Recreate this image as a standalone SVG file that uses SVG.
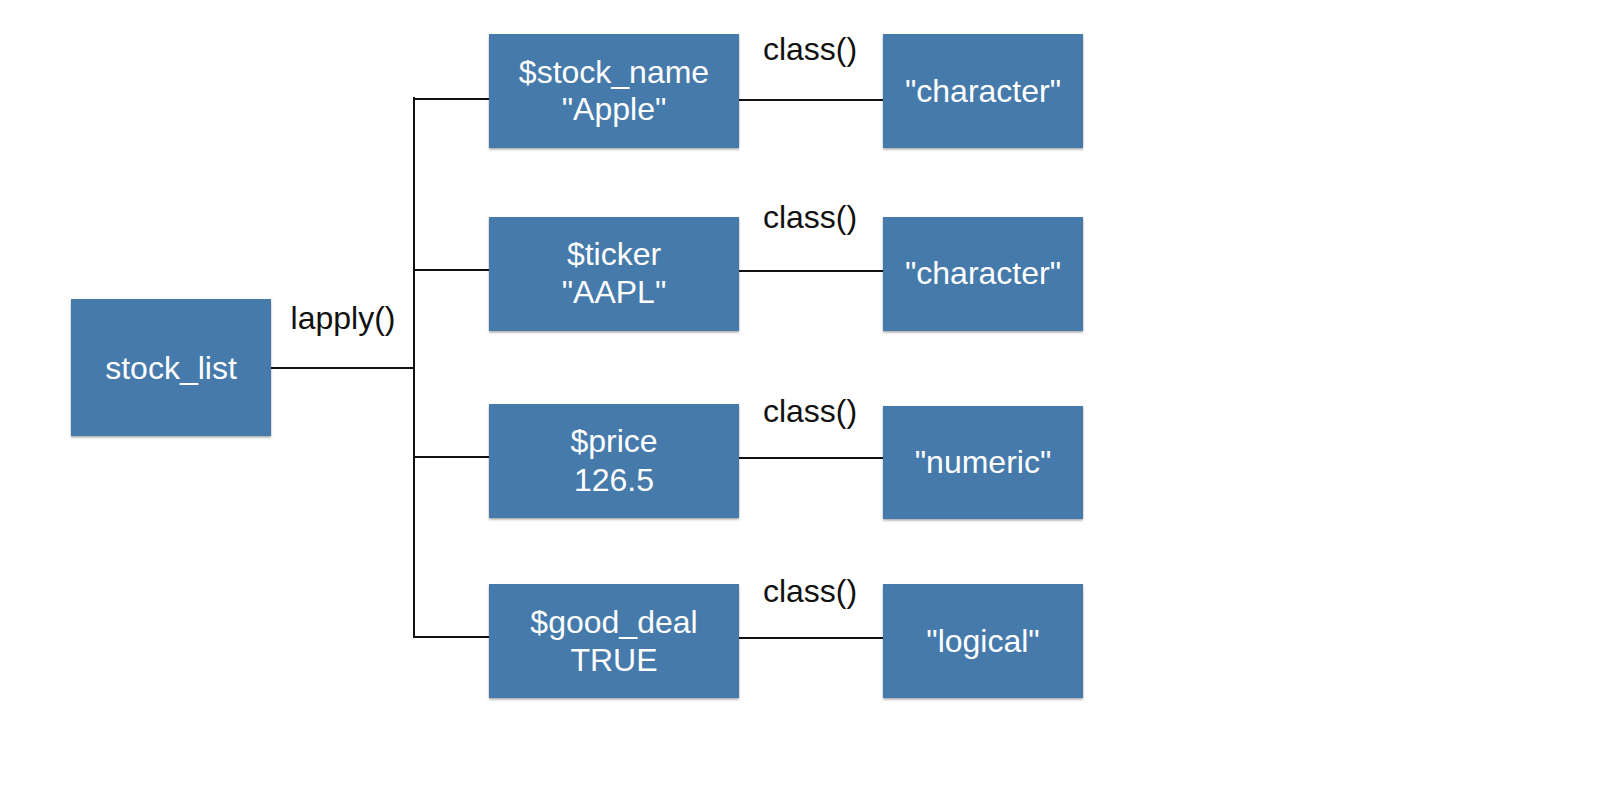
<svg xmlns="http://www.w3.org/2000/svg" width="1600" height="810" viewBox="0 0 1600 810">
<defs>
<filter id="sh" x="-5%" y="-5%" width="110%" height="115%">
<feDropShadow dx="0" dy="1.5" stdDeviation="1.2" flood-color="#000" flood-opacity="0.35"/>
</filter>
<style>
.box{fill:#447aab;filter:url(#sh)}
.t{font-family:"Liberation Sans",Arial,sans-serif;font-size:32px;fill:#fff;text-anchor:middle}
.l{font-family:"Liberation Sans",Arial,sans-serif;font-size:32px;fill:#111;text-anchor:middle}
.c{stroke:#111;stroke-width:2;fill:none}
</style>
</defs>
<rect width="1600" height="810" fill="#fff"/>
<g id="connectors">
<line class="c" x1="271" y1="368" x2="414" y2="368"/>
<line class="c" x1="414" y1="97" x2="414" y2="638"/>
<line class="c" x1="413" y1="99" x2="489" y2="99"/>
<line class="c" x1="413" y1="270" x2="489" y2="270"/>
<line class="c" x1="413" y1="457" x2="489" y2="457"/>
<line class="c" x1="413" y1="637" x2="489" y2="637"/>
<line class="c" x1="739" y1="100" x2="883" y2="100"/>
<line class="c" x1="739" y1="271" x2="883" y2="271"/>
<line class="c" x1="739" y1="458" x2="883" y2="458"/>
<line class="c" x1="739" y1="638" x2="883" y2="638"/>
<text class="l" x="343" y="329">lapply()</text>
<text class="l" x="810" y="60">class()</text>
<text class="l" x="810" y="228">class()</text>
<text class="l" x="810" y="422">class()</text>
<text class="l" x="810" y="602">class()</text>
</g>
<g id="stock_list"><rect class="box" x="71" y="299" width="200" height="137"/><text class="t" x="171" y="379">stock_list</text></g>
<g id="stock_name"><rect class="box" x="489" y="34" width="250" height="114"/><text class="t" x="614" y="83">$stock_name</text><text class="t" x="614" y="120">"Apple"</text></g>
<g id="ticker"><rect class="box" x="489" y="217" width="250" height="114"/><text class="t" x="614" y="265">$ticker</text><text class="t" x="614" y="303">"AAPL"</text></g>
<g id="price"><rect class="box" x="489" y="404" width="250" height="114"/><text class="t" x="614" y="452">$price</text><text class="t" x="614" y="491">126.5</text></g>
<g id="good_deal"><rect class="box" x="489" y="584" width="250" height="114"/><text class="t" x="614" y="633">$good_deal</text><text class="t" x="614" y="671">TRUE</text></g>
<g id="class1"><rect class="box" x="883" y="34" width="200" height="114"/><text class="t" x="983" y="102">"character"</text></g>
<g id="class2"><rect class="box" x="883" y="217" width="200" height="114"/><text class="t" x="983" y="284">"character"</text></g>
<g id="class3"><rect class="box" x="883" y="406" width="200" height="113"/><text class="t" x="983" y="473">"numeric"</text></g>
<g id="class4"><rect class="box" x="883" y="584" width="200" height="114"/><text class="t" x="983" y="652">"logical"</text></g>
</svg>
